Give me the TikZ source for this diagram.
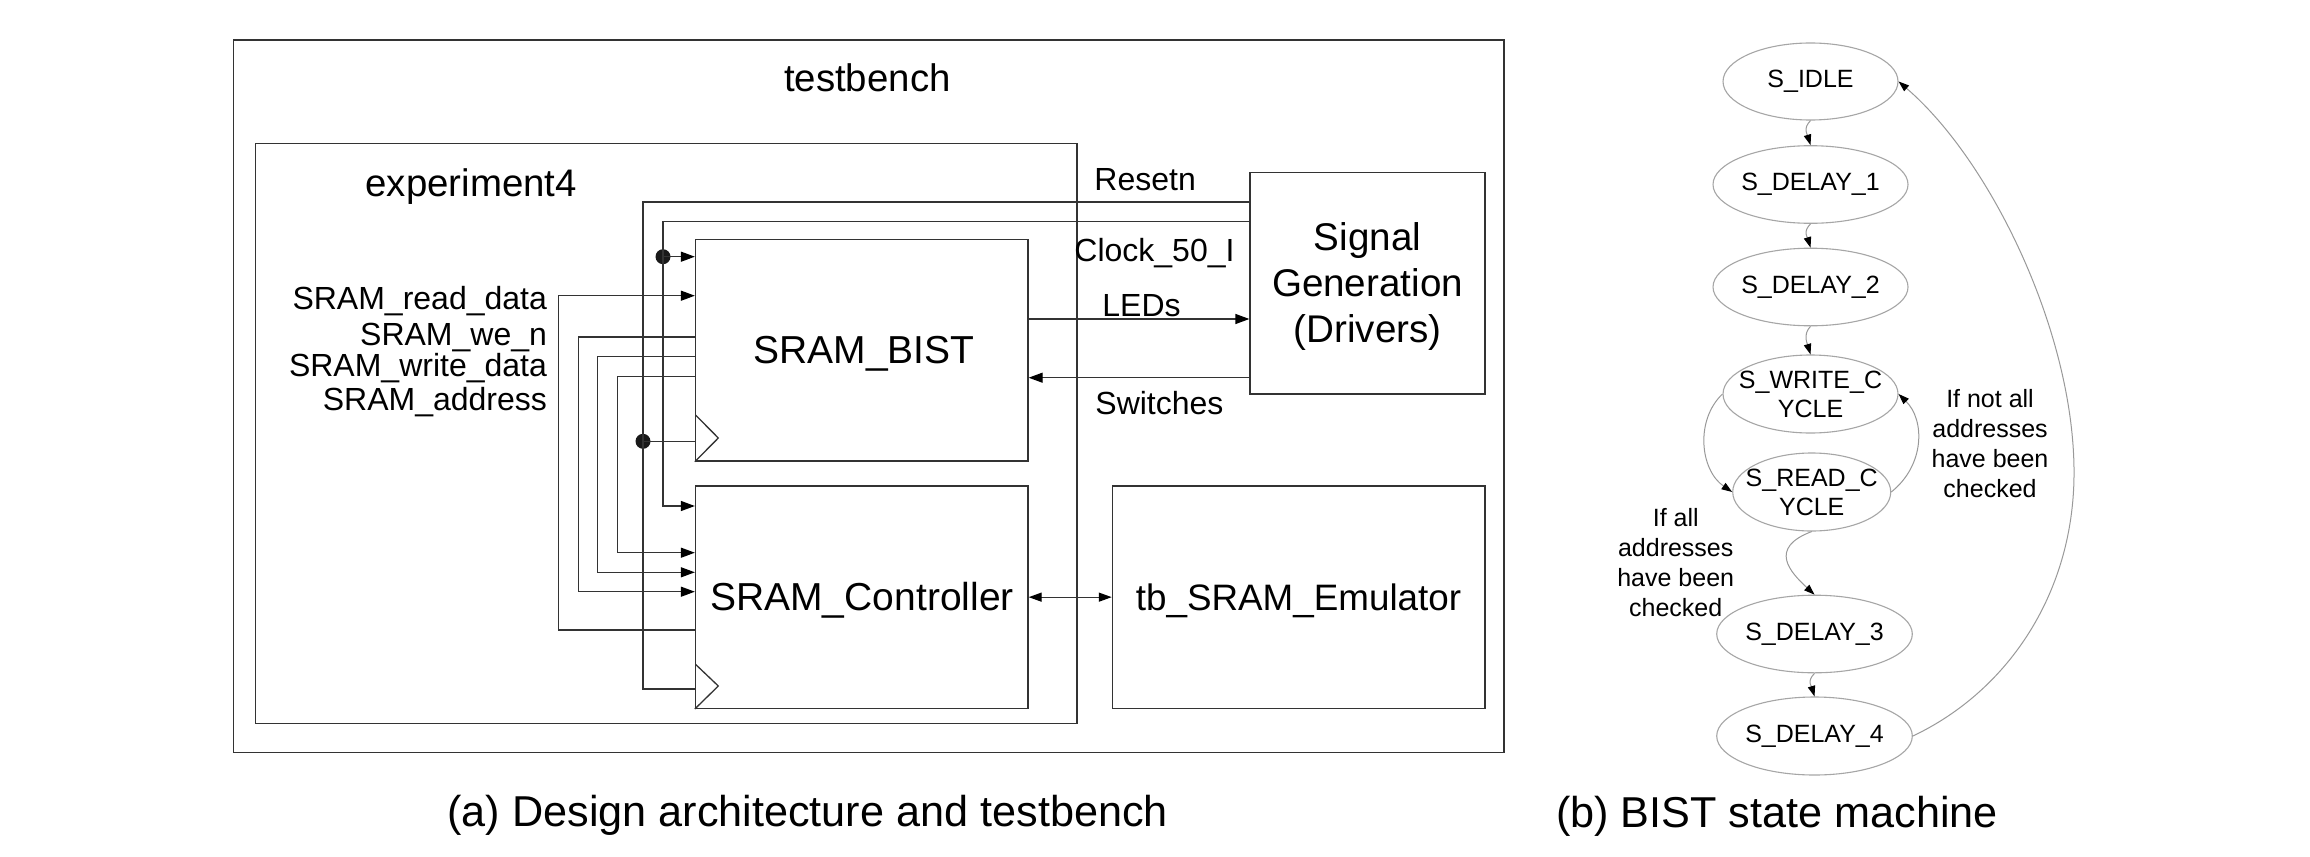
\documentclass[tikz,border=0pt]{standalone}
\usepackage{fontspec}
\setmainfont{Liberation Sans}
\usetikzlibrary{arrows.meta,shapes.geometric,fit}
\begin{document}
\begin{tikzpicture}[x=0.5pt,y=-0.5pt,
  box/.style={draw=black!80,line width=0.65pt,inner sep=0pt},
  wire/.style={draw=black!80,line width=0.65pt},
  arr/.style={-{Triangle[length=7pt,width=5pt,color=black]}},
  txt/.style={inner sep=0pt,text=black},
  lbl/.style={txt,font=\fontsize{16}{19}\selectfont},
  dot/.style={circle,fill=black!90,inner sep=0pt,minimum size=7.5pt},
  state/.style={ellipse,draw=black!35,line width=0.55pt,inner sep=0pt},
  stxt/.style={txt,align=center,font=\fontsize{12.5}{14.5}\selectfont},
  cond/.style={txt,align=center,font=\fontsize{12.5}{15}\selectfont},
  sedge/.style={draw=black!40,line width=0.5pt,-{Triangle[length=5.3pt,width=3.7pt,color=black]}},
]
\useasboundingbox[fill=white] (0,0) rectangle (2310,856);

% ---------- (a) architecture ----------
\node[box,fit={(233.5,40) (1504,752.7)}] (tb) {};
\node[box,fit={(255.8,143.3) (1077,723.3)}] (exp) {};
\node[box,fit={(695.5,239.3) (1028,461)}] (bist) {};
\node[box,fit={(695.5,486) (1028,708.3)}] (ctrl) {};
\node[box,fit={(1250,172.7) (1485,394)}] (sig) {};
\node[box,fit={(1112.4,486) (1485,708.3)}] (emu) {};

\node[txt,anchor=base,font=\fontsize{19.2}{23}\selectfont] (tbt) at (867.3,91.7) {testbench};
\node[txt,anchor=base,font=\fontsize{19.2}{23}\selectfont] (expt) at (471.2,196.7) {experiment4};
\node[txt,anchor=base,font=\fontsize{19.5}{23}\selectfont] (bistt) at (864,363.3) {SRAM\_BIST};
\node[txt,anchor=base,font=\fontsize{19.5}{23}\selectfont] (ctrlt) at (862,610) {SRAM\_Controller};
\node[txt,anchor=base,font=\fontsize{18.4}{23}\selectfont] (emut) at (1298.5,610) {tb\_SRAM\_Emulator};
\node[txt,align=center,font=\fontsize{19.3}{23}\selectfont] (sigt) at (1367.5,286.5) {Signal\\Generation\\(Drivers)};

% clock triangles
\draw[wire] (695.5,415) -- (718.3,438) -- (bist.south west);
\draw[wire] (695.5,664.3) -- (718.3,686) -- (ctrl.south west);

% reset / clock distribution
\coordinate (jr) at (643,202);
\coordinate (jc) at (663,221.7);
\coordinate (ck) at (643,689);
\coordinate (rs) at (663,506);
\node[dot] (d1) at (663,256.7) {};
\node[dot] (d2) at (643,441.3) {};
\draw[wire] (sig.west |- jr) -- (jr) -- (ck) -- (ctrl.west |- ck);
\draw[wire,arr] (sig.west |- jc) -- (jc) -- (rs) -- (ctrl.west |- rs);
\draw[wire,arr] (d1.center) -- (bist.west |- d1);
\draw[wire] (d2.center) -- (bist.west |- d2);

% SRAM signals
\coordinate (rdT) at (558.5,295.7); \coordinate (rdB) at (558.5,630);
\coordinate (weT) at (578.6,337);   \coordinate (weB) at (578.6,591.7);
\coordinate (wdT) at (597.8,356.7); \coordinate (wdB) at (597.8,572.3);
\coordinate (adT) at (617.4,376.7); \coordinate (adB) at (617.4,552.7);
\draw[wire,arr] (ctrl.west |- rdB) -- (rdB) -- (rdT) -- (bist.west |- rdT);
\draw[wire,arr] (bist.west |- weT) -- (weT) -- (weB) -- (ctrl.west |- weB);
\draw[wire,arr] (bist.west |- wdT) -- (wdT) -- (wdB) -- (ctrl.west |- wdB);
\draw[wire,arr] (bist.west |- adT) -- (adT) -- (adB) -- (ctrl.west |- adB);

\node[lbl,anchor=base east] (lrd) at (547.3,309.3) {SRAM\_read\_data};
\node[lbl,anchor=base east] (lwe) at (547.3,345) {SRAM\_we\_n};
\node[lbl,anchor=base east] (lwd) at (547.3,376.7) {SRAM\_write\_data};
\node[lbl,anchor=base east] (lad) at (547.3,410) {SRAM\_address};

% LEDs / Switches / SRAM bus
\coordinate (led) at (1100,319);
\coordinate (swc) at (1100,377.7);
\draw[wire,arr] (bist.east |- led) -- (sig.west |- led);
\draw[wire,arr] (sig.west |- swc) -- (bist.east |- swc);
\draw[wire,{Triangle[length=6.5pt,width=4.5pt,color=black]}-{Triangle[length=6.5pt,width=4.5pt,color=black]}] (ctrl.east) -- (emu.west);

\node[lbl,anchor=base west] (lrst) at (1094,190.7) {Resetn};
\node[lbl,anchor=base west] (lclk) at (1074,261) {Clock\_50\_I};
\node[lbl,anchor=base west] (lled) at (1102,316.7) {LEDs};
\node[lbl,anchor=base west] (lsw) at (1095,414) {Switches};

\node[txt,anchor=base,font=\fontsize{21.6}{26}\selectfont] (capa) at (807.7,826.7) {(a) Design architecture and testbench};

% ---------- (b) state machine ----------
\node[state,minimum width=87.5pt,minimum height=38.5pt] (idle) at (1810.5,81.5) {};
\node[state,minimum width=97.5pt,minimum height=38.8pt] (sd1) at (1810.5,184.5) {};
\node[state,minimum width=97.5pt,minimum height=38.8pt] (sd2) at (1810.5,287) {};
\node[state,minimum width=87.5pt,minimum height=39pt] (wr) at (1810.5,394) {};
\node[state,minimum width=79pt,minimum height=39pt] (rd) at (1811.7,492) {};
\node[state,minimum width=97.8pt,minimum height=38.8pt] (sd3) at (1814.5,634) {};
\node[state,minimum width=97.8pt,minimum height=39pt] (sd4) at (1814.5,736) {};

\node[stxt] at (idle.center) {S\_IDLE};
\node[stxt] at (sd1.center) {S\_DELAY\_1};
\node[stxt] at (sd2.center) {S\_DELAY\_2};
\node[stxt] at (wr.center) {S\_WRITE\_C\\YCLE};
\node[stxt] at (rd.center) {S\_READ\_C\\YCLE};
\node[stxt] at (sd3.center) {S\_DELAY\_3};
\node[stxt] at (sd4.center) {S\_DELAY\_4};

\draw[sedge] (idle.south) .. controls +(-8,8) and +(-3,-10) .. (sd1.north);
\draw[sedge] (sd1.south) .. controls +(-8,8) and +(-3,-10) .. (sd2.north);
\draw[sedge] (sd2.south) .. controls +(-8,8) and +(-3,-10) .. (wr.north);
\draw[sedge] (sd3.south) .. controls +(-8,8) and +(-3,-10) .. (sd4.north);
\draw[sedge] (wr.west) .. controls (1695,420) and (1700,470) .. (rd.west);
\draw[sedge] (rd.east) .. controls (1925,465) and (1925,420) .. (wr.east);
\draw[sedge] (rd.south) .. controls (1768,548) and (1790,572) .. (sd3.north);
\coordinate (arcR) at (2074,470);
\draw[sedge] (sd4.east) .. controls (2010,690) and (2075,590) .. (arcR) .. controls (2073,330) and (1990,160) .. (idle.east);

\node[cond] (c1) at (1990,444) {If not all\\addresses\\have been\\checked};
\node[cond] (c2) at (1675.7,562.5) {If all\\addresses\\have been\\checked};

\node[txt,anchor=base,font=\fontsize{21.6}{26}\selectfont] (capb) at (1776.9,827.3) {(b) BIST state machine};
\end{tikzpicture}
\end{document}
